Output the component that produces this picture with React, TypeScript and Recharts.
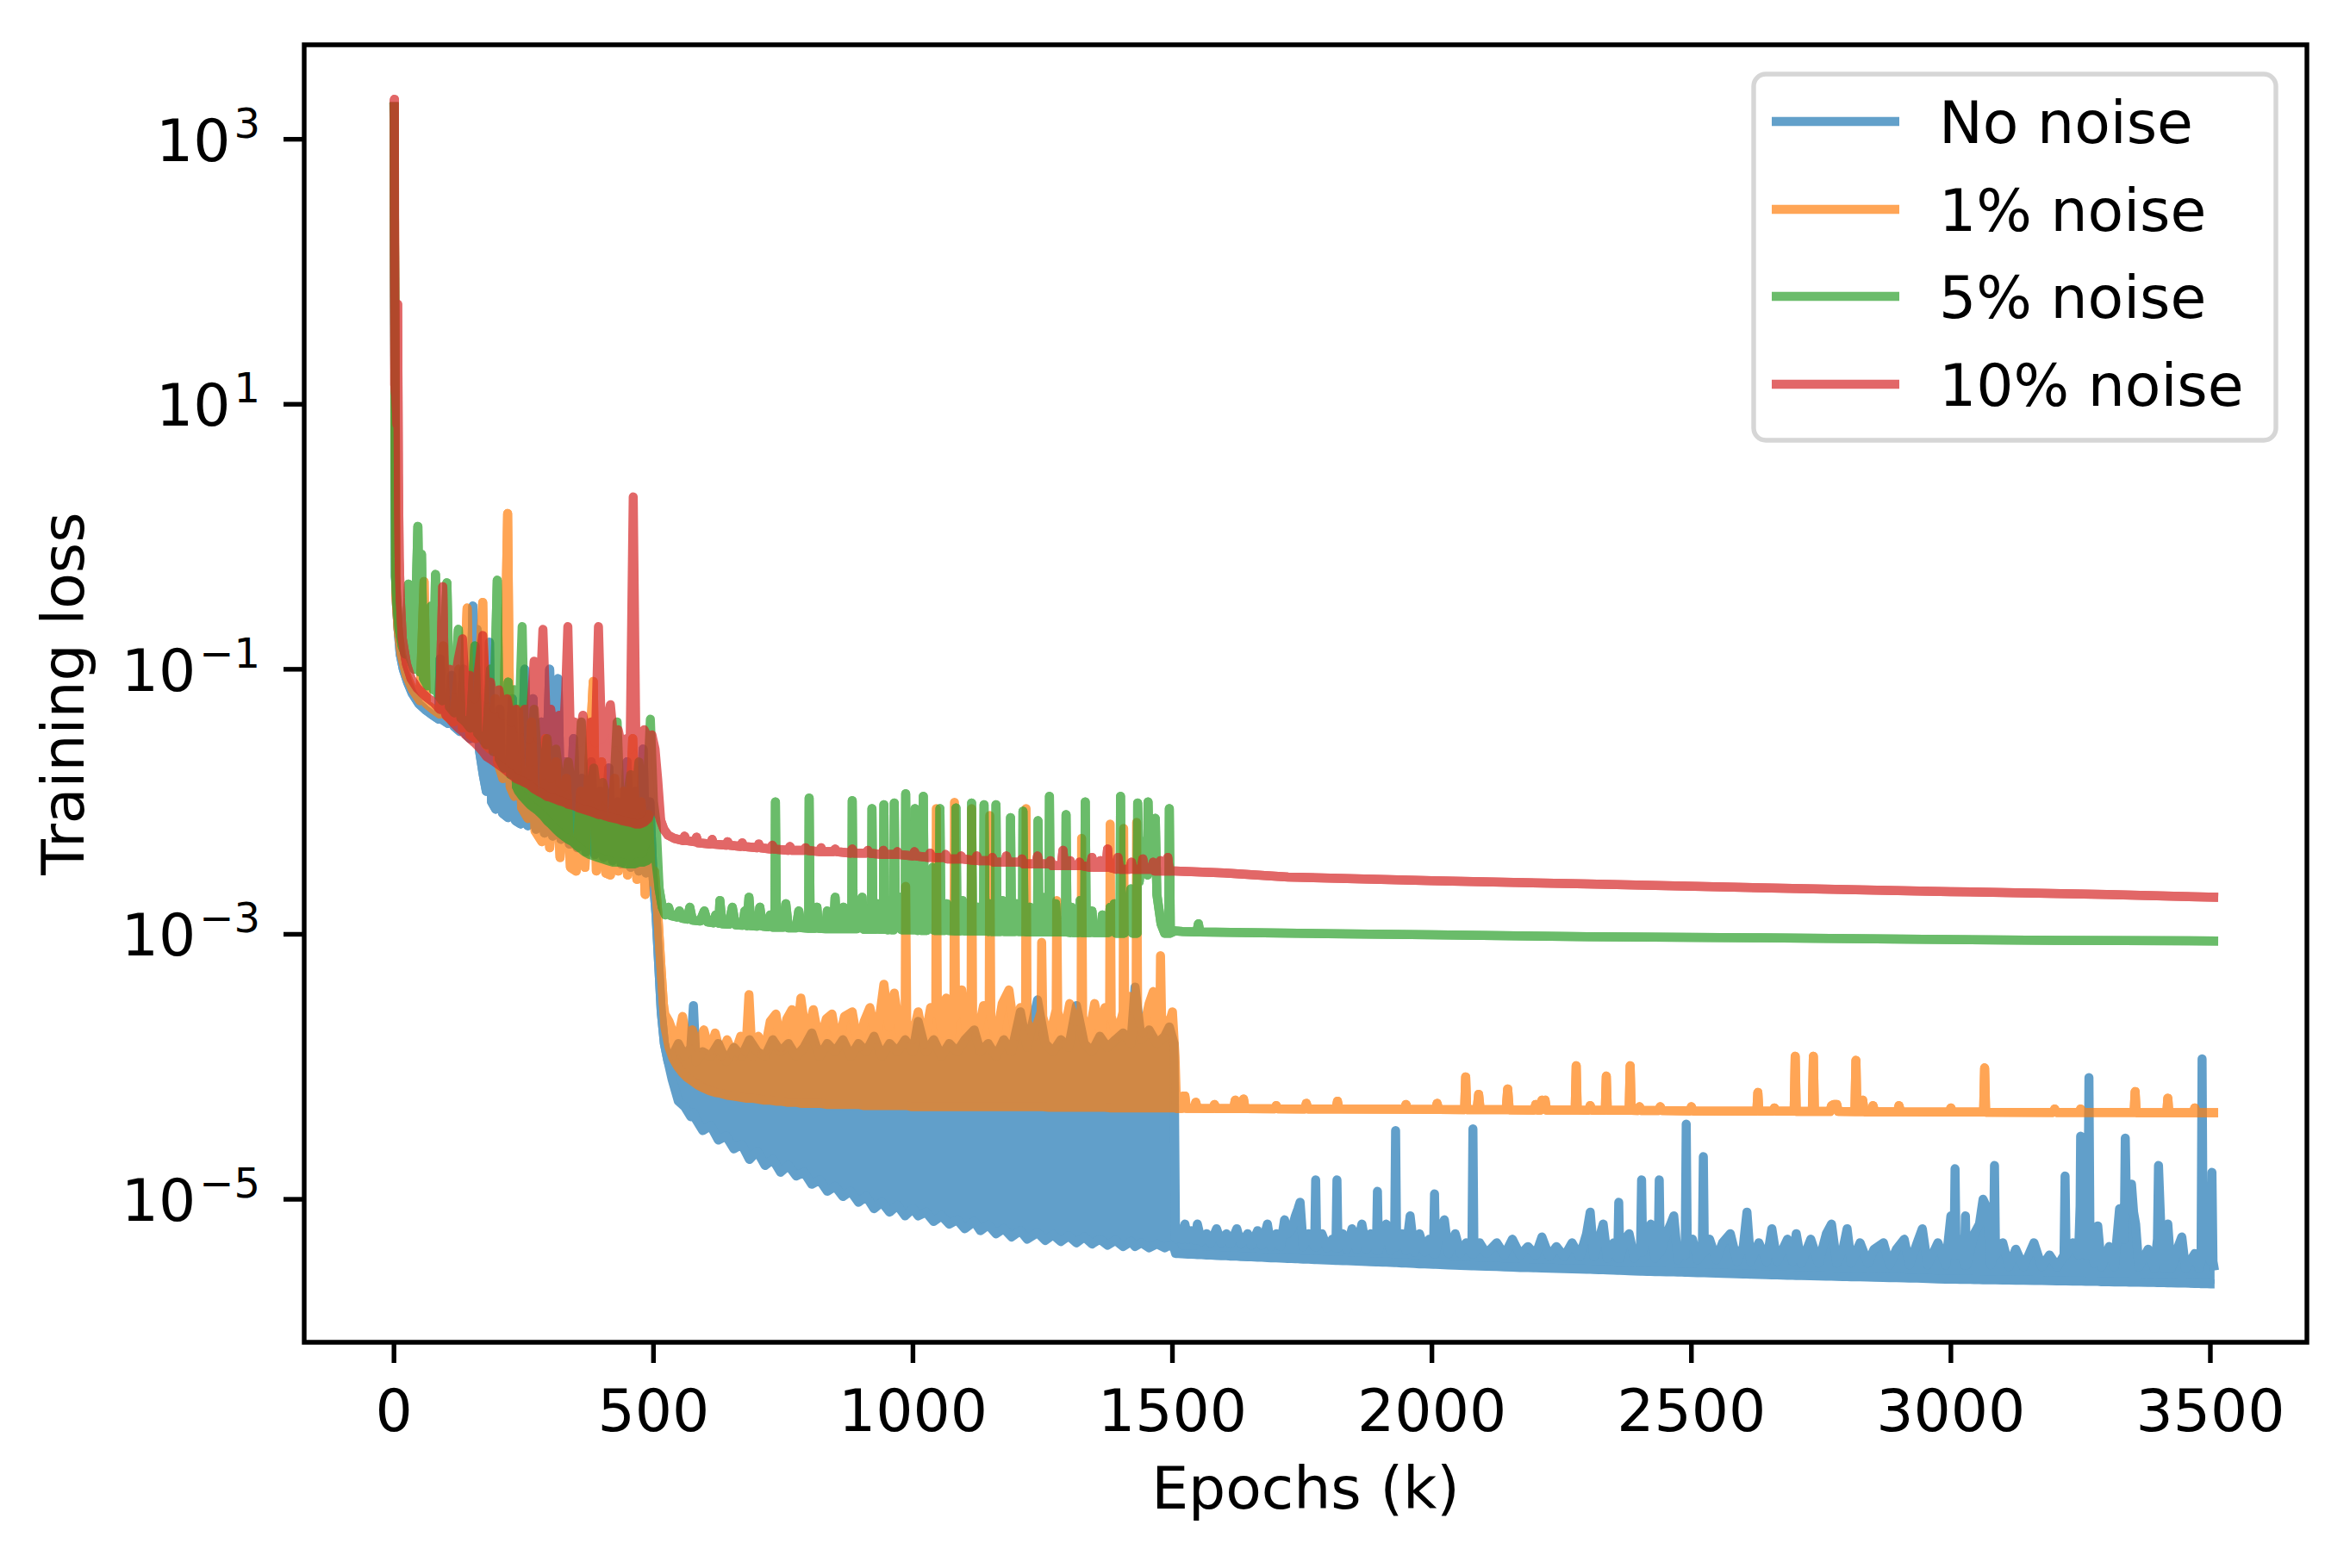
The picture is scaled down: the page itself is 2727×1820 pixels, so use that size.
import { ComposedChart, Area, XAxis, YAxis, ReferenceArea } from "recharts";

document.body.style.margin = "0";

// [epoch (k), loss] for a plain line, [epoch (k), low, high] where the curve is a dense band
type Pt = [number, number] | [number, number, number];

const seriesNames = ["No noise", "1% noise", "5% noise", "10% noise"];
const seriesColors = ["#1f77b4", "#ff7f0e", "#2ca02c", "#d62728"];
const xTicks = [0, 500, 1000, 1500, 2000, 2500, 3000, 3500];
const yTicks = [1e-5, 1e-3, 1e-1, 1e1, 1e3];
const yTickExponents = ["\u22125", "\u22123", "\u22121", "1", "3"];

const noNoise: Pt[] = [
  [0, 1900], [1.5, 40], [3, 0.5], [5, 0.3], [8, 0.2], [12, 0.13], [18, 0.1], [26, 0.08], [35, 0.066],
  [48, 0.055], [62, 0.049], [75, 0.045], [86, 0.042], [89, 0.12], [92, 0.042], [104, 0.039], [111, 0.09],
  [116, 0.037], [127, 0.034], [134, 0.1], [139, 0.032], [147, 0.03], [152, 0.3], [156, 0.03], [160, 0.2],
  [165, 0.024], [172, 0.016], [178, 0.012], [184, 0.16], [188, 0.01], [196, 0.0088], [204, 0.05],
  [209, 0.0082], [220, 0.0076], [228, 0.06], [234, 0.0072], [244, 0.0068], [252, 0.1], [258, 0.0066],
  [268, 0.06], [274, 0.0062], [284, 0.04], [290, 0.0058], [300, 0.1], [306, 0.0055], [316, 0.085],
  [322, 0.0052], [331, 0.02], [338, 0.0048], [346, 0.03], [353, 0.0045], [362, 0.015], [370, 0.0042],
  [380, 0.02], [387, 0.004], [397, 0.012], [404, 0.0038], [414, 0.018], [421, 0.0036], [431, 0.01],
  [438, 0.0034], [449, 0.02], [456, 0.0032], [465, 0.012], [472, 0.003], [480, 0.025], [486, 0.0029],
  [493, 0.01], [499, 0.0028], [505, 0.0014], [510, 6e-4], [515, 2.6e-4], [521, 1.5e-4], [528, 1.1e-4],
  [536, 8e-5, 1.2e-4], [548, 5.5e-5, 1.5e-4], [560, 5e-5, 1.2e-4], [572, 4.2e-5, 1.4e-4],
  [577, 4.5e-5, 2.9e-4], [582, 4e-5, 1.1e-4], [595, 3.3e-5, 1.3e-4], [610, 3.6e-5, 1.2e-4],
  [625, 2.8e-5, 1.5e-4], [640, 3e-5, 1.1e-4], [655, 2.4e-5, 1.4e-4], [670, 2.6e-5, 1.2e-4],
  [685, 2e-5, 1.6e-4], [700, 2.3e-5, 1.3e-4], [715, 1.8e-5, 1.2e-4], [730, 2e-5, 1.6e-4],
  [745, 1.6e-5, 1.3e-4], [760, 1.8e-5, 1.5e-4], [775, 1.5e-5, 1.2e-4], [790, 1.6e-5, 1.4e-4],
  [805, 1.3e-5, 1.8e-4], [820, 1.4e-5, 1.2e-4], [835, 1.15e-5, 1.5e-4], [850, 1.25e-5, 1.3e-4],
  [865, 1.05e-5, 1.6e-4], [880, 1.15e-5, 1.2e-4], [895, 9.5e-6, 1.5e-4], [910, 1.05e-5, 1.3e-4],
  [925, 8.5e-6, 1.7e-4], [940, 9.5e-6, 1.2e-4], [955, 8e-6, 1.5e-4], [970, 9e-6, 1.3e-4],
  [985, 7.5e-6, 1.6e-4], [1000, 8.5e-6, 1.3e-4], [1010, 7.5e-6, 2.2e-4], [1025, 8e-6, 1.3e-4],
  [1040, 6.8e-6, 1.6e-4], [1055, 7.5e-6, 1.2e-4], [1070, 6.5e-6, 1.5e-4], [1085, 7e-6, 1.3e-4],
  [1100, 6e-6, 1.6e-4], [1118, 6.8e-6, 1.9e-4], [1130, 5.8e-6, 1.3e-4], [1145, 6.4e-6, 1.5e-4],
  [1160, 5.5e-6, 1.2e-4], [1175, 6e-6, 1.6e-4], [1190, 5.2e-6, 1.3e-4], [1207, 5.8e-6, 2.6e-4],
  [1220, 5e-6, 1.4e-4], [1240, 5.6e-6, 3.2e-4], [1255, 4.9e-6, 1.5e-4], [1270, 5.4e-6, 1.3e-4],
  [1285, 4.8e-6, 1.6e-4], [1300, 5.3e-6, 1.4e-4], [1315, 4.7e-6, 2.9e-4], [1330, 5.2e-6, 1.5e-4],
  [1345, 4.6e-6, 1.3e-4], [1360, 5e-6, 1.7e-4], [1375, 4.5e-6, 1.4e-4], [1390, 4.9e-6, 1.6e-4],
  [1405, 4.4e-6, 1.8e-4], [1420, 4.8e-6, 1.5e-4], [1428, 4.4e-6, 4e-4], [1440, 4.7e-6, 1.6e-4],
  [1455, 4.3e-6, 1.9e-4], [1470, 4.6e-6, 1.5e-4], [1485, 4.3e-6, 1.7e-4], [1494, 4.5e-6, 2e-4],
  [1503, 4.3e-6, 1.5e-4],
  [1506, 3.9e-6, 5e-6], [1512, 3.9e-6, 6e-6], [1518, 3.88e-6, 5e-6], [1524, 3.87e-6, 6.5e-6],
  [1530, 3.86e-6, 5e-6], [1536, 3.85e-6, 5.8e-6], [1544, 3.84e-6, 4.9e-6], [1548, 3.83e-6, 6.5e-6],
  [1556, 3.82e-6, 4.8e-6], [1566, 3.8e-6, 5.5e-6], [1574, 3.79e-6, 4.7e-6], [1585, 3.77e-6, 6e-6],
  [1594, 3.76e-6, 4.7e-6], [1604, 3.75e-6, 5.5e-6], [1612, 3.73e-6, 4.6e-6], [1624, 3.72e-6, 6e-6],
  [1632, 3.7e-6, 4.6e-6], [1645, 3.69e-6, 5.5e-6], [1652, 3.68e-6, 4.5e-6], [1664, 3.66e-6, 5.8e-6],
  [1672, 3.65e-6, 4.5e-6], [1683, 3.63e-6, 6.5e-6], [1690, 3.62e-6, 4.4e-6], [1700, 3.61e-6, 5.5e-6],
  [1708, 3.6e-6, 4.4e-6], [1716, 3.59e-6, 7e-6], [1722, 3.58e-6, 5.5e-6], [1730, 3.57e-6, 6e-6],
  [1737, 3.56e-6, 7.5e-6], [1742, 3.56e-6, 8.5e-6], [1746, 3.55e-6, 9.5e-6], [1752, 3.54e-6, 4.4e-6],
  [1762, 3.53e-6, 5.5e-6], [1774, 3.51e-6, 4.4e-6], [1776, 3.51e-6, 1.4e-5], [1778, 3.51e-6, 4.4e-6],
  [1788, 3.5e-6, 5.5e-6], [1798, 3.48e-6, 4.3e-6], [1808, 3.47e-6, 5e-6], [1815, 3.46e-6, 4.3e-6],
  [1817, 3.46e-6, 1.4e-5], [1819, 3.46e-6, 4.3e-6], [1828, 3.45e-6, 5.5e-6], [1836, 3.44e-6, 4.2e-6],
  [1846, 3.43e-6, 6e-6], [1855, 3.42e-6, 4.2e-6], [1865, 3.4e-6, 6.5e-6], [1874, 3.39e-6, 4.2e-6],
  [1882, 3.38e-6, 5.5e-6], [1893, 3.37e-6, 4.1e-6], [1895, 3.37e-6, 1.15e-5], [1897, 3.37e-6, 4.1e-6],
  [1905, 3.36e-6, 5.5e-6], [1912, 3.35e-6, 6.5e-6], [1920, 3.34e-6, 4.1e-6], [1928, 3.33e-6, 4.6e-6],
  [1930, 3.33e-6, 3.3e-5], [1932, 3.33e-6, 4.4e-6], [1942, 3.31e-6, 5.5e-6], [1950, 3.3e-6, 4.1e-6],
  [1958, 3.29e-6, 7.5e-6], [1966, 3.28e-6, 4e-6], [1976, 3.26e-6, 5.5e-6], [1986, 3.25e-6, 4e-6],
  [1995, 3.24e-6, 5e-6], [2003, 3.23e-6, 3.9e-6], [2005, 3.23e-6, 1.1e-5], [2007, 3.23e-6, 3.9e-6],
  [2016, 3.22e-6, 6e-6], [2024, 3.21e-6, 7e-6], [2032, 3.2e-6, 3.9e-6], [2045, 3.18e-6, 5.5e-6],
  [2055, 3.17e-6, 3.9e-6], [2066, 3.16e-6, 4.7e-6], [2077, 3.15e-6, 3.9e-6], [2079, 3.15e-6, 3.4e-5],
  [2081, 3.15e-6, 3.9e-6], [2092, 3.14e-6, 4.7e-6], [2105, 3.13e-6, 3.9e-6], [2125, 3.11e-6, 4.7e-6],
  [2140, 3.09e-6, 3.8e-6], [2155, 3.08e-6, 5e-6], [2170, 3.06e-6, 3.8e-6], [2185, 3.05e-6, 4.4e-6],
  [2200, 3.04e-6, 3.8e-6], [2212, 3.03e-6, 5.2e-6], [2226, 3.02e-6, 3.7e-6], [2240, 3.01e-6, 4.4e-6],
  [2255, 3e-6, 3.7e-6], [2270, 2.99e-6, 4.7e-6], [2285, 2.98e-6, 3.7e-6], [2298, 2.97e-6, 5.5e-6],
  [2305, 2.96e-6, 8e-6], [2312, 2.95e-6, 3.7e-6], [2322, 2.94e-6, 5e-6], [2330, 2.94e-6, 6.5e-6],
  [2338, 2.93e-6, 3.6e-6], [2350, 2.92e-6, 4.7e-6], [2358, 2.91e-6, 3.6e-6], [2360, 2.91e-6, 9.5e-6],
  [2362, 2.91e-6, 3.6e-6], [2372, 2.9e-6, 5e-6], [2380, 2.89e-6, 5.5e-6], [2390, 2.88e-6, 3.6e-6],
  [2402, 2.87e-6, 4.4e-6], [2404, 2.87e-6, 1.4e-5], [2406, 2.87e-6, 4e-6], [2415, 2.86e-6, 5.5e-6],
  [2422, 2.86e-6, 6.5e-6], [2430, 2.85e-6, 3.6e-6], [2436, 2.85e-6, 4e-6], [2438, 2.85e-6, 1.4e-5],
  [2440, 2.85e-6, 4e-6], [2452, 2.84e-6, 5.5e-6], [2460, 2.83e-6, 6.5e-6], [2466, 2.83e-6, 7.5e-6],
  [2474, 2.82e-6, 3.5e-6], [2482, 2.82e-6, 4.4e-6], [2488, 2.81e-6, 3.8e-6], [2490, 2.81e-6, 3.7e-5],
  [2492, 2.81e-6, 4.4e-6], [2502, 2.8e-6, 5e-6], [2512, 2.79e-6, 3.5e-6], [2521, 2.79e-6, 4e-6],
  [2523, 2.79e-6, 2.1e-5], [2525, 2.79e-6, 4e-6], [2535, 2.78e-6, 5e-6], [2548, 2.77e-6, 3.5e-6],
  [2560, 2.76e-6, 4.7e-6], [2575, 2.75e-6, 5.5e-6], [2588, 2.74e-6, 3.4e-6], [2600, 2.73e-6, 4.4e-6],
  [2607, 2.73e-6, 8e-6], [2614, 2.72e-6, 3.4e-6], [2630, 2.71e-6, 4.7e-6], [2645, 2.7e-6, 3.4e-6],
  [2655, 2.69e-6, 6e-6], [2665, 2.69e-6, 3.4e-6], [2685, 2.67e-6, 5e-6], [2695, 2.67e-6, 3.4e-6],
  [2702, 2.66e-6, 5.5e-6], [2712, 2.66e-6, 3.3e-6], [2730, 2.65e-6, 5e-6], [2745, 2.64e-6, 3.3e-6],
  [2760, 2.63e-6, 5.5e-6], [2770, 2.63e-6, 6.5e-6], [2780, 2.62e-6, 3.3e-6], [2792, 2.61e-6, 4.2e-6],
  [2800, 2.61e-6, 6e-6], [2808, 2.6e-6, 3.3e-6], [2825, 2.6e-6, 4.7e-6], [2840, 2.59e-6, 3.3e-6],
  [2852, 2.58e-6, 4.2e-6], [2870, 2.57e-6, 4.7e-6], [2882, 2.56e-6, 3.2e-6], [2895, 2.56e-6, 4.2e-6],
  [2910, 2.55e-6, 5e-6], [2920, 2.54e-6, 3.2e-6], [2935, 2.54e-6, 4.7e-6], [2945, 2.53e-6, 6e-6],
  [2955, 2.52e-6, 3.2e-6], [2975, 2.51e-6, 4.7e-6], [2990, 2.5e-6, 3.2e-6], [3000, 2.5e-6, 7.5e-6],
  [3006, 2.5e-6, 3.8e-6], [3008, 2.5e-6, 1.7e-5], [3010, 2.5e-6, 3.8e-6], [3018, 2.49e-6, 5e-6],
  [3026, 2.49e-6, 3.2e-6], [3028, 2.49e-6, 7.5e-6], [3030, 2.49e-6, 3.2e-6], [3045, 2.48e-6, 5.5e-6],
  [3055, 2.48e-6, 6.5e-6], [3062, 2.47e-6, 1e-5], [3070, 2.47e-6, 8.5e-6], [3077, 2.47e-6, 3.2e-6],
  [3082, 2.47e-6, 3.8e-6], [3084, 2.47e-6, 1.8e-5], [3086, 2.47e-6, 3.8e-6], [3100, 2.46e-6, 4.7e-6],
  [3112, 2.46e-6, 3.1e-6], [3125, 2.45e-6, 4.2e-6], [3140, 2.45e-6, 3.1e-6], [3160, 2.44e-6, 4.7e-6],
  [3175, 2.44e-6, 3.1e-6], [3190, 2.43e-6, 3.8e-6], [3205, 2.42e-6, 3.1e-6], [3218, 2.42e-6, 3.8e-6],
  [3220, 2.42e-6, 1.5e-5], [3222, 2.42e-6, 3.8e-6], [3235, 2.41e-6, 4.7e-6], [3246, 2.41e-6, 3.8e-6],
  [3249, 2.41e-6, 9e-6], [3250, 2.41e-6, 3e-5], [3252, 2.41e-6, 5.5e-6], [3260, 2.4e-6, 3.8e-6],
  [3264, 2.4e-6, 6e-6], [3266, 2.4e-6, 8.3e-5], [3268, 2.4e-6, 5e-6], [3276, 2.4e-6, 3.3e-6],
  [3283, 2.4e-6, 6.3e-6], [3290, 2.39e-6, 3.1e-6], [3305, 2.39e-6, 4.4e-6], [3315, 2.38e-6, 3.1e-6],
  [3325, 2.38e-6, 8.5e-6], [3330, 2.38e-6, 7.5e-6], [3334, 2.38e-6, 5e-6], [3336, 2.38e-6, 2.9e-5],
  [3338, 2.38e-6, 1e-5], [3344, 2.37e-6, 9.5e-6], [3348, 2.37e-6, 1.3e-5], [3352, 2.37e-6, 8e-6],
  [3356, 2.37e-6, 6.5e-6], [3362, 2.37e-6, 3.1e-6], [3380, 2.36e-6, 4.2e-6], [3392, 2.36e-6, 3e-6],
  [3398, 2.35e-6, 5e-6], [3400, 2.35e-6, 1.8e-5], [3405, 2.35e-6, 5.5e-6], [3411, 2.35e-6, 3e-6],
  [3418, 2.34e-6, 6.5e-6], [3424, 2.34e-6, 3e-6], [3438, 2.33e-6, 4.4e-6], [3445, 2.33e-6, 5.2e-6],
  [3452, 2.33e-6, 3e-6], [3470, 2.32e-6, 3.9e-6], [3478, 2.32e-6, 3e-6], [3482, 2.31e-6, 3.4e-6],
  [3484, 2.31e-6, 1.15e-4], [3486, 2.31e-6, 4.4e-6], [3494, 2.31e-6, 3.9e-6], [3501, 2.3e-6, 3.4e-6],
  [3503, 2.3e-6, 1.6e-5], [3505, 2.3e-6, 3.4e-6], [3508, 2.3e-6, 2.9e-6],
];

const noise1: Pt[] = [
  [0, 1900], [2, 30], [4, 0.35], [8, 0.2], [14, 0.13], [24, 0.09], [36, 0.07], [50, 0.058], [58, 0.46],
  [62, 0.055], [75, 0.05], [88, 0.046], [95, 0.15], [100, 0.045], [115, 0.04], [125, 0.1], [132, 0.036],
  [141, 0.29], [146, 0.032], [158, 0.03], [171, 0.32], [176, 0.027], [185, 0.025], [195, 0.06],
  [200, 0.02], [210, 0.015], [219, 1.5], [224, 0.013], [232, 0.011], [240, 0.05], [246, 0.009],
  [258, 0.0075], [265, 0.04], [272, 0.006], [285, 0.005], [292, 0.03], [300, 0.0045], [312, 0.02],
  [320, 0.0038], [332, 0.015], [340, 0.0032], [351, 0.003], [360, 0.012], [368, 0.0032], [376, 0.02],
  [384, 0.081], [390, 0.003], [400, 0.02], [408, 0.0029], [417, 0.0028], [425, 0.015], [432, 0.003],
  [442, 0.012], [450, 0.0028], [460, 0.03], [468, 0.0026], [476, 0.01], [484, 0.002], [490, 0.008],
  [496, 0.0025], [502, 0.003], [508, 0.0015], [514, 6e-4], [519, 3e-4],
  [522, 2e-4, 2.5e-4], [530, 1.4e-4, 2.2e-4], [538, 1.15e-4, 1.8e-4], [547, 1e-4, 1.6e-4],
  [556, 9e-5, 2.4e-4], [565, 8.3e-5, 1.5e-4], [575, 7.8e-5, 1.9e-4], [585, 7.3e-5, 1.4e-4],
  [597, 6.9e-5, 1.9e-4], [608, 6.6e-5, 1.3e-4], [619, 6.4e-5, 1.8e-4], [630, 6.3e-5, 1.2e-4],
  [642, 6.1e-5, 1.6e-4], [655, 6e-5, 1.2e-4], [668, 5.9e-5, 1.7e-4], [678, 5.8e-5, 1.3e-4],
  [684, 5.8e-5, 3.5e-4], [690, 5.8e-5, 1.2e-4], [702, 5.7e-5, 1.7e-4], [714, 5.6e-5, 1.3e-4],
  [725, 5.6e-5, 2.2e-4], [736, 5.5e-5, 2.5e-4], [746, 5.5e-5, 1.4e-4], [757, 5.4e-5, 2.3e-4],
  [767, 5.4e-5, 2.7e-4], [775, 5.4e-5, 1.5e-4], [784, 5.3e-5, 3.3e-4], [795, 5.3e-5, 1.6e-4],
  [808, 5.3e-5, 2.7e-4], [820, 5.3e-5, 1.5e-4], [833, 5.2e-5, 2.3e-4], [844, 5.2e-5, 2.5e-4],
  [855, 5.2e-5, 1.4e-4], [868, 5.2e-5, 2.4e-4], [883, 5.2e-5, 2.6e-4], [895, 5.2e-5, 1.4e-4],
  [906, 5.1e-5, 2.2e-4], [917, 5.1e-5, 2.8e-4], [930, 5.1e-5, 1.6e-4], [944, 5.1e-5, 4.2e-4],
  [954, 5.1e-5, 2e-4], [964, 5.1e-5, 3.6e-4], [975, 5.1e-5, 1.8e-4], [985, 5.1e-5, 2.2e-4],
  [986, 5.1e-5, 2.3e-3], [988, 5.1e-5, 2.2e-4], [998, 5e-5, 1.6e-4], [1010, 5e-5, 2.6e-4],
  [1022, 5e-5, 1.5e-4], [1034, 5e-5, 2.8e-4], [1044, 5e-5, 2.5e-4], [1045, 5e-5, 8.9e-3],
  [1047, 5e-5, 3e-4], [1056, 5e-5, 1.8e-4], [1064, 5e-5, 3.3e-4], [1072, 5e-5, 1.6e-4],
  [1079, 5e-5, 2.5e-4], [1080, 5e-5, 9.9e-3], [1082, 5e-5, 2.4e-4], [1094, 5e-5, 3.8e-4],
  [1104, 5e-5, 1.7e-4], [1112, 5e-5, 2.5e-4], [1113, 5e-5, 8.9e-3], [1115, 5e-5, 2.3e-4],
  [1125, 5e-5, 1.8e-4], [1136, 5e-5, 2.9e-4], [1147, 5e-5, 2.6e-4], [1148, 5e-5, 7.9e-3],
  [1150, 5e-5, 2.4e-4], [1160, 5e-5, 1.6e-4], [1172, 5e-5, 3e-4], [1185, 5e-5, 3.8e-4],
  [1197, 5e-5, 1.7e-4], [1207, 5e-5, 2.8e-4], [1217, 5e-5, 2.5e-4], [1218, 5e-5, 8.9e-3],
  [1220, 5e-5, 2.2e-4], [1232, 5e-5, 1.7e-4], [1247, 5e-5, 2.6e-4], [1248, 5e-5, 8.7e-4],
  [1250, 5e-5, 2.4e-4], [1262, 4.95e-5, 1.6e-4], [1276, 4.95e-5, 2.7e-4], [1277, 4.95e-5, 1.8e-3],
  [1279, 4.95e-5, 2.6e-4], [1290, 4.95e-5, 1.7e-4], [1302, 4.95e-5, 3e-4], [1313, 4.95e-5, 2.2e-4],
  [1324, 4.95e-5, 2.6e-4], [1325, 4.95e-5, 5.3e-3], [1327, 4.95e-5, 2.4e-4], [1338, 4.95e-5, 1.6e-4],
  [1350, 4.95e-5, 3e-4], [1362, 4.95e-5, 1.8e-4], [1370, 4.95e-5, 2.8e-4], [1379, 4.9e-5, 2.5e-4],
  [1380, 4.9e-5, 6.8e-3], [1382, 4.9e-5, 2.4e-4], [1393, 4.9e-5, 1.7e-4], [1405, 4.9e-5, 2.6e-4],
  [1406, 4.9e-5, 6.3e-3], [1408, 4.9e-5, 2.4e-4], [1418, 4.9e-5, 3.4e-4], [1430, 4.9e-5, 2.6e-4],
  [1431, 4.9e-5, 7e-3], [1433, 4.9e-5, 2.5e-4], [1443, 4.9e-5, 1.8e-4], [1455, 4.9e-5, 3e-4],
  [1463, 4.9e-5, 3.7e-4], [1470, 4.9e-5, 1.8e-4], [1476, 4.9e-5, 2.5e-4], [1477, 4.9e-5, 6.9e-4],
  [1479, 4.9e-5, 2.4e-4], [1490, 4.9e-5, 1.9e-4], [1500, 4.9e-5, 2.6e-4], [1505, 4.9e-5, 1.2e-4],
  [1508, 4.85e-5], [1518, 4.85e-5], [1521, 6e-5], [1524, 6e-5], [1527, 4.85e-5], [1542, 4.85e-5],
  [1545, 5.4e-5], [1548, 4.85e-5], [1578, 4.84e-5], [1581, 5.2e-5], [1584, 4.84e-5], [1618, 4.83e-5],
  [1621, 5.6e-5], [1624, 4.83e-5], [1634, 4.83e-5], [1637, 5.7e-5], [1640, 4.83e-5], [1697, 4.82e-5],
  [1700, 5.1e-5], [1703, 4.82e-5], [1755, 4.81e-5], [1758, 5.3e-5], [1761, 4.81e-5], [1815, 4.8e-5],
  [1818, 5.5e-5], [1821, 4.8e-5], [1947, 4.78e-5], [1950, 5.2e-5], [1953, 4.78e-5], [2007, 4.76e-5],
  [2010, 5.3e-5], [2013, 4.76e-5], [2063, 4.75e-5], [2065, 8.4e-5], [2067, 4.75e-5], [2087, 4.75e-5],
  [2090, 6.2e-5], [2093, 4.75e-5], [2143, 4.74e-5], [2146, 6.8e-5], [2149, 4.73e-5], [2197, 4.72e-5],
  [2200, 5.2e-5], [2203, 4.72e-5], [2209, 4.72e-5], [2212, 5.6e-5], [2215, 5e-5], [2218, 5.6e-5],
  [2221, 4.72e-5], [2276, 4.71e-5], [2278, 1.02e-4], [2280, 4.71e-5], [2302, 4.7e-5], [2305, 5.1e-5],
  [2308, 4.7e-5], [2334, 4.7e-5], [2336, 8.5e-5], [2338, 4.7e-5], [2380, 4.69e-5], [2382, 1.02e-4],
  [2384, 4.69e-5], [2397, 4.68e-5], [2400, 5e-5], [2403, 4.68e-5], [2437, 4.67e-5], [2440, 5e-5],
  [2443, 4.67e-5], [2497, 4.65e-5], [2500, 5e-5], [2503, 4.65e-5], [2626, 4.63e-5], [2628, 6.4e-5],
  [2630, 4.63e-5], [2657, 4.62e-5], [2660, 4.9e-5], [2663, 4.62e-5], [2698, 4.62e-5], [2700, 1.2e-4],
  [2702, 4.61e-5], [2733, 4.61e-5], [2735, 1.2e-4], [2737, 4.6e-5], [2767, 4.6e-5], [2770, 5.1e-5],
  [2775, 5.2e-5], [2780, 5.2e-5], [2783, 4.6e-5], [2815, 4.59e-5], [2817, 1.12e-4], [2819, 4.59e-5],
  [2827, 4.59e-5], [2830, 5.6e-5], [2833, 4.58e-5], [2847, 4.58e-5], [2850, 5.1e-5], [2853, 4.58e-5],
  [2897, 4.57e-5], [2900, 5.1e-5], [2903, 4.57e-5], [2997, 4.55e-5], [3000, 4.9e-5], [3003, 4.55e-5],
  [3063, 4.55e-5], [3065, 9.8e-5], [3067, 4.54e-5], [3197, 4.53e-5], [3200, 4.8e-5], [3203, 4.53e-5],
  [3247, 4.52e-5], [3250, 4.8e-5], [3253, 4.52e-5], [3353, 4.52e-5], [3355, 6.5e-5], [3357, 4.51e-5],
  [3416, 4.51e-5], [3418, 5.8e-5], [3420, 4.5e-5], [3467, 4.5e-5], [3470, 4.9e-5], [3473, 4.5e-5],
  [3515, 4.5e-5],
];

const noise5: Pt[] = [
  [0, 1900], [1.5, 40], [3, 0.5], [6, 0.3], [10, 0.2], [16, 0.15], [22, 0.13], [28, 0.44], [32, 0.12],
  [39, 0.1], [46, 1.2], [50, 0.095], [53, 0.74], [57, 0.085], [65, 0.075], [72, 0.3], [76, 0.07],
  [80, 0.52], [84, 0.065], [93, 0.058], [102, 0.45], [107, 0.052], [116, 0.047], [124, 0.2],
  [129, 0.043], [138, 0.04], [147, 0.036], [156, 0.15], [161, 0.033], [170, 0.03], [178, 0.027],
  [186, 0.1], [191, 0.024], [199, 0.47], [203, 0.021], [212, 0.018], [220, 0.08], [225, 0.016],
  [232, 0.07], [236, 0.013],
  [240, 0.012, 0.03], [247, 0.011, 0.21], [252, 0.0105, 0.025], [262, 0.0095, 0.02], [270, 0.009, 0.05],
  [278, 0.0085, 0.018], [288, 0.0078, 0.016], [295, 0.0072, 0.03], [302, 0.0068, 0.015],
  [312, 0.0062, 0.025], [320, 0.0058, 0.014], [330, 0.0054, 0.013], [336, 0.0052, 0.02],
  [344, 0.005, 0.012], [354, 0.0046, 0.012], [361, 0.0044, 0.04], [367, 0.0042, 0.011],
  [377, 0.004, 0.011], [385, 0.0039, 0.018], [393, 0.0038, 0.01], [402, 0.0037, 0.014],
  [412, 0.0036, 0.01], [422, 0.0035, 0.0095], [430, 0.0035, 0.04], [436, 0.0035, 0.009],
  [446, 0.0034, 0.009], [456, 0.0034, 0.016], [463, 0.0034, 0.0085], [472, 0.0035, 0.02],
  [480, 0.0035, 0.0085], [488, 0.0036, 0.012], [494, 0.0038, 0.042], [500, 0.0045, 0.01],
  [505, 0.0035, 0.007],
  [511, 0.0022], [517, 0.0016], [523, 0.0014], [529, 0.0016], [534, 0.00138], [545, 0.00135],
  [550, 0.0015], [555, 0.00132], [565, 0.0013], [570, 0.0016], [575, 0.00128], [590, 0.00126],
  [598, 0.0015], [604, 0.00124], [615, 0.00122], [620, 0.0014], [626, 0.00121], [628, 0.0018],
  [632, 0.0012], [645, 0.00119], [652, 0.0016], [658, 0.00118], [672, 0.00117], [676, 0.0015],
  [680, 0.00116], [684, 0.0019], [688, 0.00116], [700, 0.00115], [705, 0.0016], [710, 0.00115],
  [720, 0.00114], [725, 0.0014], [730, 0.00113], [734, 0.00113], [735, 0.01], [737, 0.00113],
  [750, 0.00113], [755, 0.0017], [760, 0.00112], [775, 0.00112], [780, 0.0015], [785, 0.00112],
  [799, 0.00111], [800, 0.0107], [802, 0.00111], [812, 0.00111], [815, 0.0016], [818, 0.00111],
  [832, 0.0011], [835, 0.0015], [838, 0.0011], [847, 0.0011], [850, 0.0019], [853, 0.0011],
  [863, 0.0011], [866, 0.0016], [869, 0.0011], [882, 0.0011], [883, 0.0102], [885, 0.0011],
  [892, 0.0011], [895, 0.0018], [898, 0.0013], [902, 0.0019], [905, 0.00109], [920, 0.00109],
  [921, 0.0089], [923, 0.00109], [929, 0.00109], [932, 0.0017], [935, 0.00109], [943, 0.00109],
  [944, 0.0095], [946, 0.00109], [952, 0.00108], [955, 0.0018], [958, 0.00108], [963, 0.00108],
  [964, 0.0098], [966, 0.0016], [972, 0.0012], [975, 0.0019], [978, 0.00108], [985, 0.00108],
  [986, 0.0115], [988, 0.00108], [992, 0.00108], [995, 0.0017], [998, 0.00108], [1003, 0.00108],
  [1004, 0.0089], [1006, 0.00108], [1009, 0.00107], [1012, 0.0016], [1015, 0.00107], [1019, 0.00107],
  [1020, 0.011], [1022, 0.00107], [1027, 0.00107], [1030, 0.0018], [1034, 0.0012], [1038, 0.0032],
  [1041, 0.00107], [1051, 0.00107], [1052, 0.0089], [1054, 0.00107], [1062, 0.00107], [1065, 0.0017],
  [1068, 0.00107], [1082, 0.00106], [1083, 0.009], [1085, 0.00106], [1092, 0.00106], [1095, 0.0018],
  [1098, 0.00106], [1112, 0.00106], [1113, 0.0098], [1115, 0.00106], [1122, 0.00106], [1125, 0.0016],
  [1128, 0.00106], [1136, 0.00106], [1137, 0.0095], [1139, 0.00106], [1145, 0.00105], [1148, 0.0017],
  [1151, 0.00105], [1159, 0.00105], [1160, 0.0095], [1162, 0.00105], [1169, 0.00105], [1172, 0.0018],
  [1175, 0.00105], [1187, 0.00105], [1188, 0.0076], [1190, 0.00105], [1197, 0.00105], [1200, 0.0017],
  [1203, 0.00105], [1211, 0.00105], [1212, 0.0085], [1214, 0.00105], [1222, 0.00104], [1225, 0.0016],
  [1228, 0.00104], [1240, 0.00104], [1241, 0.0072], [1243, 0.00104], [1247, 0.00104], [1250, 0.0019],
  [1253, 0.00104], [1262, 0.00104], [1263, 0.011], [1265, 0.00104], [1272, 0.00104], [1275, 0.0017],
  [1278, 0.00104], [1294, 0.00104], [1295, 0.008], [1297, 0.00104], [1302, 0.00103], [1305, 0.0016],
  [1308, 0.00103], [1319, 0.00103], [1322, 0.0018], [1325, 0.00103], [1331, 0.00103], [1332, 0.01],
  [1334, 0.00103], [1342, 0.00103], [1345, 0.0015], [1348, 0.00103], [1362, 0.00103], [1365, 0.0014],
  [1368, 0.00103], [1377, 0.00103], [1380, 0.0016], [1384, 0.0013], [1388, 0.0017], [1391, 0.00102],
  [1399, 0.00102], [1400, 0.011], [1402, 0.00102], [1407, 0.00102], [1410, 0.0018], [1414, 0.0013],
  [1420, 0.0022], [1423, 0.00102], [1432, 0.00102], [1433, 0.0098], [1436, 0.0025], [1443, 0.005],
  [1448, 0.003], [1452, 0.0028], [1453, 0.01], [1456, 0.003], [1460, 0.005], [1464, 0.003],
  [1466, 0.003], [1467, 0.0075], [1470, 0.002], [1478, 0.0012], [1485, 0.00102], [1493, 0.00102],
  [1494, 0.0089], [1496, 0.00102], [1505, 0.00106], [1520, 0.00105], [1547, 0.00104], [1550, 0.0012],
  [1553, 0.00104], [1643, 0.00103], [1800, 0.00101], [2000, 0.00099], [2300, 0.00096], [2634, 0.00094],
  [2900, 0.00092], [3200, 0.0009], [3515, 0.00089],
];

const noise10: Pt[] = [
  [0, 1900], [0.8, 2000], [1.5, 14], [4, 11], [6, 7], [7, 57], [8.5, 3], [10, 0.7], [12, 0.35],
  [16, 0.17], [24, 0.11], [33, 0.085], [45, 0.072], [60, 0.063], [77, 0.056], [88, 0.05], [94, 0.42],
  [98, 0.048],
  [100, 0.045, 0.06], [108, 0.042, 0.1], [115, 0.039, 0.07], [124, 0.036, 0.12], [132, 0.034, 0.17],
  [138, 0.032, 0.06], [146, 0.03, 0.09], [155, 0.028, 0.06], [163, 0.026, 0.1], [171, 0.024, 0.18],
  [178, 0.022, 0.06], [186, 0.021, 0.08], [194, 0.02, 0.05], [202, 0.019, 0.07], [210, 0.018, 0.045],
  [218, 0.017, 0.06], [226, 0.016, 0.04], [235, 0.015, 0.05], [244, 0.0145, 0.035], [252, 0.014, 0.05],
  [260, 0.0135, 0.03], [270, 0.0125, 0.115], [278, 0.012, 0.03], [287, 0.0115, 0.2],
  [294, 0.011, 0.035], [302, 0.0108, 0.05], [310, 0.0105, 0.03], [318, 0.0102, 0.045],
  [326, 0.01, 0.03], [331, 0.0098, 0.07], [335, 0.0096, 0.21], [340, 0.0095, 0.03],
  [348, 0.0093, 0.04], [356, 0.009, 0.028], [364, 0.0088, 0.045], [372, 0.0086, 0.03],
  [380, 0.0084, 0.04], [388, 0.0082, 0.028], [394, 0.008, 0.21], [400, 0.008, 0.03],
  [408, 0.0078, 0.035], [417, 0.0076, 0.054], [424, 0.0075, 0.028], [432, 0.0074, 0.035],
  [440, 0.0072, 0.025], [448, 0.0071, 0.03], [455, 0.007, 0.025], [461, 0.0069, 2.0],
  [466, 0.0068, 0.03], [474, 0.0068, 0.025], [482, 0.007, 0.035], [490, 0.0075, 0.03],
  [497, 0.009, 0.032], [503, 0.01, 0.025], [508, 0.0085, 0.015],
  [514, 0.0072], [520, 0.0062], [528, 0.0056], [540, 0.0053], [557, 0.0051], [560, 0.0055],
  [563, 0.0051], [580, 0.005], [583, 0.0054], [586, 0.0049], [610, 0.0048], [613, 0.0052],
  [616, 0.0048], [640, 0.0047], [643, 0.005], [646, 0.0047], [668, 0.0046], [671, 0.0049],
  [674, 0.0046], [700, 0.0045], [703, 0.0048], [706, 0.0045], [726, 0.0044], [729, 0.0047],
  [732, 0.0044], [760, 0.0043], [763, 0.0046], [766, 0.0043], [790, 0.0043], [793, 0.0045],
  [796, 0.0043], [820, 0.0042], [823, 0.0045], [826, 0.0042], [847, 0.0042], [850, 0.0044],
  [853, 0.0042], [880, 0.0041], [883, 0.0044], [886, 0.0041], [910, 0.0041], [913, 0.0043],
  [916, 0.0041], [940, 0.004], [943, 0.0043], [946, 0.004], [967, 0.004], [970, 0.0042],
  [973, 0.004], [1000, 0.0039], [1003, 0.0042], [1006, 0.0039], [1030, 0.0038], [1033, 0.0041],
  [1036, 0.0038], [1060, 0.0038], [1063, 0.004], [1066, 0.0037], [1090, 0.0037], [1093, 0.0039],
  [1096, 0.0037], [1120, 0.0036], [1123, 0.0039], [1126, 0.0036], [1150, 0.0036], [1153, 0.0038],
  [1156, 0.0035], [1177, 0.0035], [1180, 0.0039], [1183, 0.0035], [1207, 0.0035], [1210, 0.0037],
  [1213, 0.0034], [1237, 0.0034], [1240, 0.0039], [1243, 0.0034], [1262, 0.0034], [1265, 0.0036],
  [1268, 0.0033], [1286, 0.0033], [1289, 0.0043], [1292, 0.0033], [1300, 0.0033], [1303, 0.0036],
  [1306, 0.0033], [1318, 0.0033], [1321, 0.0035], [1324, 0.0033], [1342, 0.0032], [1345, 0.0038],
  [1348, 0.0032], [1358, 0.0032], [1361, 0.0036], [1364, 0.0032], [1372, 0.0032], [1375, 0.0044],
  [1378, 0.0032], [1392, 0.0031], [1395, 0.0038], [1398, 0.0031], [1418, 0.0031], [1421, 0.0035],
  [1424, 0.0031], [1440, 0.0031], [1443, 0.0037], [1446, 0.0031], [1460, 0.0031], [1463, 0.0035],
  [1466, 0.003], [1474, 0.003], [1477, 0.0036], [1480, 0.003], [1488, 0.003], [1491, 0.0038],
  [1494, 0.003], [1505, 0.003], [1600, 0.0029], [1723, 0.0027], [2000, 0.00254], [2300, 0.0024],
  [2634, 0.00224], [3000, 0.0021], [3300, 0.002], [3515, 0.0019],
];

const allSeries = [noNoise, noise1, noise5, noise10];

const toRows = (pts: Pt[]) =>
  pts.map((p) => ({ x: p[0], lo: p[1], hi: p.length > 2 ? (p as number[])[2] : p[1] }));
const lossRange = (d: { lo: number; hi: number }) => [d.lo, d.hi];

const W = 2727;
const H = 1820;
const FONT = "DejaVu Sans";
const xDomain = [-173, 3686];
const yDomain = [Math.pow(10, -6.079), Math.pow(10, 3.713)];

const XTick = (props: any) => {
  const { x, y, payload } = props;
  return (
    <text x={x} y={y + 79} textAnchor="middle" fontSize={68} fontFamily={FONT} fill="#000">
      {payload.value}
    </text>
  );
};

const YTick = (props: any) => {
  const { x, y, payload } = props;
  const exp = yTickExponents[yTicks.indexOf(payload.value)];
  return (
    <text x={x - 27} y={y + 25} textAnchor="end" fontSize={68} fontFamily={FONT} fill="#000">
      <tspan>10</tspan>
      <tspan fontSize={48} dx={4} dy={-27}>
        {exp}
      </tspan>
    </text>
  );
};

const YLabel = () => (
  <text x={97} y={805} transform="rotate(-90 97 805)" textAnchor="middle" fontSize={68} fontFamily={FONT} fill="#000">
    Training loss
  </text>
);

const XLabel = () => (
  <text x={1515} y={1751} textAnchor="middle" fontSize={68} fontFamily={FONT} fill="#000">
    Epochs (k)
  </text>
);

const LegendBox = () => {
  const rowY = [141, 243, 344, 446];
  return (
    <svg width={W} height={H} style={{ position: "absolute", left: 0, top: 0, pointerEvents: "none" }}>
      <rect x={2035} y={86} width={606} height={425} rx={14} ry={14} fill="#fff" fillOpacity={0.8} stroke="#d6d6d6" strokeWidth={5.4} />
      {seriesNames.map((name, i) => (
        <g key={name}>
          <line x1={2056} x2={2204} y1={rowY[i]} y2={rowY[i]} stroke={seriesColors[i]} strokeOpacity={0.7} strokeWidth={10.5} />
          <text x={2250} y={rowY[i] + 25} fontSize={68} fontFamily={FONT} fill="#000">
            {name}
          </text>
        </g>
      ))}
    </svg>
  );
};

export default function App() {
  return (
    <div style={{ position: "relative", width: W, height: H, background: "#fff" }}>
      <style>{`.loss-series { opacity: 0.7; } .loss-series path { stroke-linejoin: round; }`}</style>
      <ComposedChart width={W} height={H} margin={{ top: 52, right: 50, bottom: 0, left: 0 }}>
        <XAxis
          type="number"
          dataKey="x"
          domain={xDomain}
          allowDataOverflow
          ticks={xTicks}
          interval={0}
          height={262}
          axisLine={false}
          tickSize={24}
          tickMargin={0}
          stroke="#000"
          tickLine={{ stroke: "#000", strokeWidth: 5.4 }}
          tick={<XTick />}
          label={<XLabel />}
        />
        <YAxis
          type="number"
          scale="log"
          domain={yDomain}
          allowDataOverflow
          ticks={yTicks}
          interval={0}
          width={353}
          axisLine={false}
          tickSize={24}
          tickMargin={0}
          stroke="#000"
          tickLine={{ stroke: "#000", strokeWidth: 5.4 }}
          tick={<YTick />}
          label={<YLabel />}
        />
        {allSeries.map((pts, i) => (
          <Area
            key={seriesNames[i]}
            className="loss-series"
            data={toRows(pts)}
            dataKey={lossRange}
            type="linear"
            stroke={seriesColors[i]}
            strokeWidth={10.5}
            strokeLinejoin="round"
            fill={seriesColors[i]}
            fillOpacity={1}
            dot={false}
            activeDot={false}
            isAnimationActive={false}
          />
        ))}
        <ReferenceArea
          x1={xDomain[0]}
          x2={xDomain[1]}
          y1={yDomain[0]}
          y2={yDomain[1]}
          fill="none"
          fillOpacity={0}
          stroke="#000"
          strokeWidth={5.4}
          ifOverflow="visible"
        />
      </ComposedChart>
      <LegendBox />
    </div>
  );
}
